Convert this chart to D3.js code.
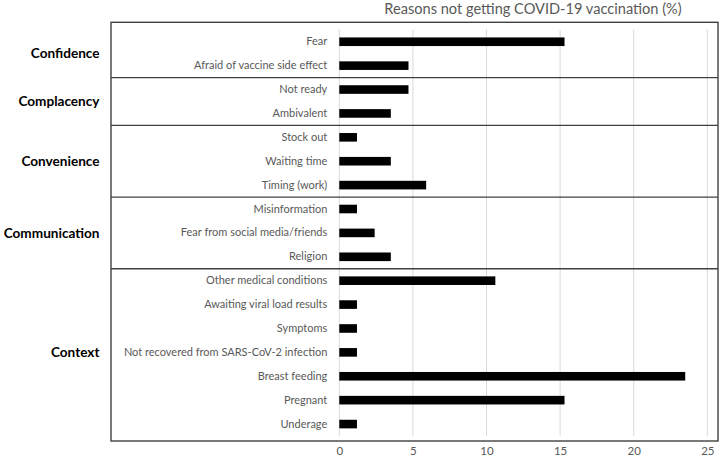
<!DOCTYPE html>
<html><head><meta charset="utf-8">
<script src="https://cdn.jsdelivr.net/npm/d3@7"></script>
<style>body{margin:0;background:#fff;} svg{display:block;}</style>
</head><body><svg id="c" width="720" height="465"></svg>
<script>
const categories = ["Fear","Afraid of vaccine side effect","Not ready","Ambivalent","Stock out","Waiting time","Timing (work)","Misinformation","Fear from social media/friends","Religion","Other medical conditions","Awaiting viral load results","Symptoms","Not recovered from SARS-CoV-2 infection","Breast feeding","Pregnant","Underage"];
const values = [15.3,4.7,4.7,3.5,1.2,3.5,5.9,1.2,2.4,3.5,10.6,1.2,1.2,1.2,23.5,15.3,1.2];
const groups = ["Confidence","Complacency","Convenience","Communication","Context"];
const groupSizes = [2,2,3,3,7];
const xTicks = [0,5,10,15,20,25];
const title = "Reasons not getting COVID-19 vaccination (%)";

const svg = d3.select("#c");
const x = d3.scaleLinear().domain([0,25]).range([339.3,707.3]);
const y = d3.scaleBand().domain(categories).range([29.8,436]).paddingInner(0.64).paddingOuter(0.32);
const font = "Lato, 'Open Sans', sans-serif";
const txt = "#595959";

// gridlines
svg.append("g").selectAll("line").data(xTicks.slice(1)).join("line")
  .attr("x1",d=>x(d)).attr("x2",d=>x(d)).attr("y1",29.8).attr("y2",436)
  .attr("stroke","#d9d9d9").attr("stroke-width",1);
svg.append("line").attr("x1",x(0)).attr("x2",x(0)).attr("y1",29.8).attr("y2",436)
  .attr("stroke","#d9d9d9").attr("stroke-width",1);

// x axis
const xa = svg.append("g").attr("transform","translate(0,441)")
  .call(d3.axisBottom(x).tickValues(xTicks).tickSize(0).tickPadding(6));
xa.select(".domain").remove();
xa.selectAll("text").attr("fill",txt).style("font-family",font).style("font-size","11.5px");

// bars
svg.append("g").selectAll("rect").data(categories).join("rect")
  .attr("x",x(0)).attr("y",d=>y(d)).attr("height",y.bandwidth())
  .attr("width",(d,i)=>x(values[i])-x(0)).attr("fill","#000");

// y labels
const ya = svg.append("g").attr("transform",`translate(${x(0)},0)`)
  .call(d3.axisLeft(y).tickSize(0).tickPadding(12));
ya.select(".domain").remove();
ya.selectAll("text").attr("fill",txt).style("font-family",font).style("font-size","11px");

// group separators and labels
let idx = 0;
const frameColor = "#404040";
groups.forEach((g,gi)=>{
  const first = idx, last = idx + groupSizes[gi] - 1;
  const cy = (y(categories[first]) + y(categories[last]))/2 + y.bandwidth()/2;
  svg.append("text").attr("x",99.5).attr("y",cy).attr("dy","0.35em")
    .attr("text-anchor","end").attr("fill","#000").style("font-family",font)
    .style("font-size","13.6px").style("font-weight","bold").text(g);
  if (gi>0) {
    const sy = y(categories[first]) - y.step()*y.paddingInner()/2;
    svg.append("line").attr("x1",111).attr("x2",718).attr("y1",sy).attr("y2",sy)
      .attr("stroke",frameColor).attr("stroke-width",1.3);
  }
  idx += groupSizes[gi];
});

// frame
svg.append("rect").attr("x",111).attr("y",22.3).attr("width",607).attr("height",418.7)
  .attr("fill","none").attr("stroke",frameColor).attr("stroke-width",1.4);

// title
svg.append("text").attr("x",533).attr("y",8.5).attr("dy","0.35em").attr("text-anchor","middle")
  .attr("fill",txt).style("font-family",font).style("font-size","14.6px").text(title);
</script></body></html>
